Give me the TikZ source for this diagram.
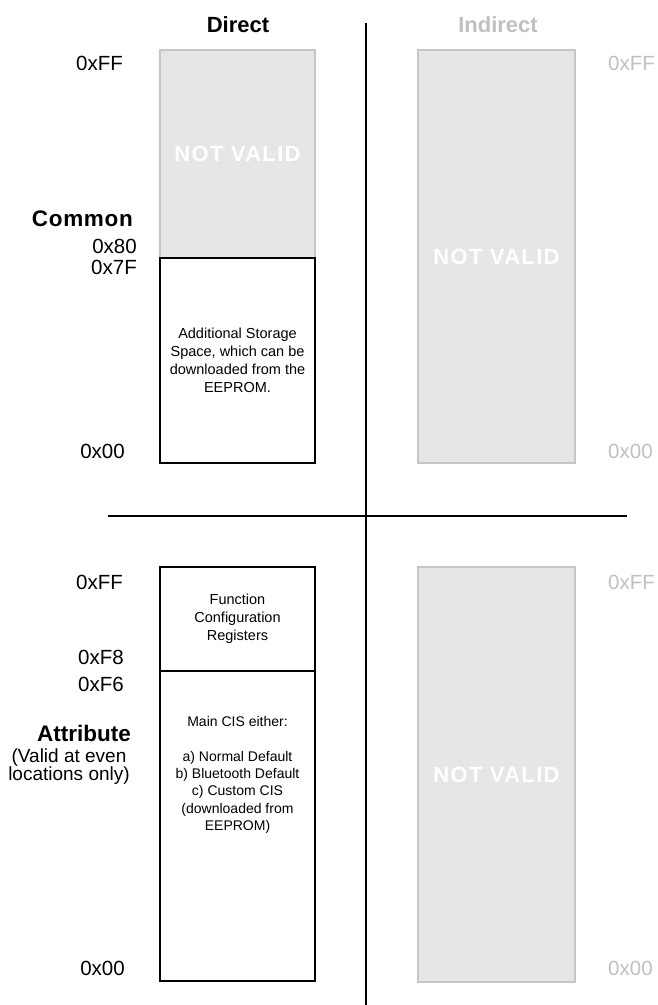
\documentclass[tikz,border=0pt]{standalone}
\usepackage{fontspec}
\setmainfont{Liberation Sans}
\usepackage{tikz}

\definecolor{fillgray}{HTML}{E6E6E6}
\definecolor{edgegray}{HTML}{C6C6C6}
\definecolor{labelgray}{HTML}{C0C0C0}

\begin{document}
\begin{tikzpicture}[x=1pt,y=-1pt,
  region/.style={draw=black,line width=1.5pt,fill=white,inner sep=0pt,
    minimum width=155pt,align=center,font=\fontsize{14.5}{18}\selectfont},
  invalid/.style={draw=edgegray,fill=fillgray,line width=1.5pt,inner sep=0pt,
    minimum width=155pt,text=white,
    font=\bfseries\fontsize{22}{24}\selectfont\addfontfeatures{LetterSpace=6}},
  addr/.style={anchor=east,inner sep=0pt,font=\fontsize{20.5}{24}\selectfont},
  grayaddr/.style={addr,anchor=west,text=labelgray},
  heading/.style={inner sep=0pt,font=\bfseries\fontsize{22}{24}\selectfont},
  divider/.style={draw=black,line width=1.5pt}]
  \useasboundingbox (0,0) rectangle (658,1005);

  % column headings
  \node[heading] (direct) at (238,25) {Direct};
  \node[heading,text=labelgray] (indirect) at (498,25) {Indirect};

  % common memory, direct
  \node[invalid,minimum height=208pt] (cmnv) at (237.5,154) {NOT VALID};
  \node[region,minimum height=205pt] (cmstore) at (237.5,360.5)
    {Additional Storage\\Space, which can be\\downloaded from the\\EEPROM.};
  % common memory, indirect
  \node[invalid,minimum height=413pt,minimum width=157pt] (cinv) at (496.5,256.5) {NOT VALID};

  % attribute memory, direct
  \node[region,minimum height=104pt] (fcr) at (237.5,619)
    {Function\\Configuration\\Registers};
  \node[region,minimum height=310pt] (cis) at (237.5,826) {};
  \node[inner sep=0pt,align=center,font=\fontsize{14}{17.3}\selectfont] (cistext) at (237.5,775)
    {Main CIS either:\\[17pt]a) Normal Default\\b) Bluetooth Default\\c) Custom CIS\\(downloaded from\\EEPROM)};
  % attribute memory, indirect
  \node[invalid,minimum height=415pt,minimum width=157pt] (ainv) at (496.5,774.5) {NOT VALID};

  % address labels
  \node[addr] (cff) at (123,63) {0xFF};
  \node[heading,anchor=east,font=\bfseries\fontsize{22.5}{24}\selectfont\addfontfeatures{LetterSpace=3}] (common) at (133,219) {Common};
  \node[addr] (c80) at (137,246) {0x80};
  \node[addr] (c7f) at (137,267) {0x7F};
  \node[addr] (c00) at (125,451) {0x00};
  \node[addr] (aff) at (123,582) {0xFF};
  \node[addr] (af8) at (124,657) {0xF8};
  \node[addr] (af6) at (124,684) {0xF6};
  \node[heading,anchor=east,font=\bfseries\fontsize{22.5}{24}\selectfont] (attrib) at (131,733) {Attribute};
  \node[inner sep=0pt,align=center,font=\fontsize{19}{18}\selectfont] (attribnote) at (69,767)
    {(Valid at even\\locations only)};
  \node[addr] (a00) at (125,968) {0x00};

  \node[grayaddr] (icff) at (608,63) {0xFF};
  \node[grayaddr] (ic00) at (608,451) {0x00};
  \node[grayaddr] (iaff) at (608,582) {0xFF};
  \node[grayaddr] (ia00) at (608,968) {0x00};

  % quadrant lines
  \coordinate (vtop) at (366,23);
  \coordinate (vbot) at (366,1005);
  \coordinate (hleft) at (108,516);
  \coordinate (hright) at (627,516);
  \draw[divider] (vtop) -- (vbot);
  \draw[divider] (hleft) -- (hright);
\end{tikzpicture}
\end{document}
